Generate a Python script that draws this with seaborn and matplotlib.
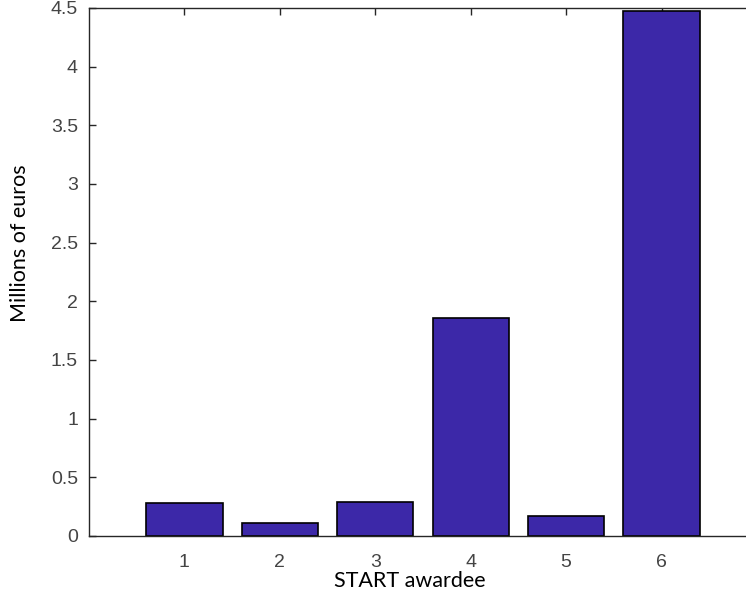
import pandas as pd
import matplotlib
matplotlib.use("Agg")
import matplotlib.pyplot as plt
import seaborn as sns

# values
awardees = [1, 2, 3, 4, 5, 6]
millions_euros = [0.284, 0.108, 0.292, 1.858, 0.170, 4.475]
ytick_labels = ["0", "0.5", "1", "1.5", "2", "2.5", "3", "3.5", "4", "4.5"]

df = pd.DataFrame({"awardee": awardees, "millions": millions_euros})

sns.set_style("white")
plt.rcParams["font.family"] = ["Liberation Sans", "DejaVu Sans"]

fig = plt.figure(figsize=(7.46, 5.94), dpi=100)
# axes run past the right edge, like the cropped original
ax = fig.add_axes([89 / 746, 58 / 594, 668 / 746, 528 / 594])

sns.barplot(data=df, x="awardee", y="millions", native_scale=True, width=0.8,
            color="#3C28A8", saturation=1, edgecolor="black", linewidth=1.2, ax=ax)

ax.set_xlim(0, 7)
ax.set_ylim(0, 4.5)
ax.set_xticks(awardees)
ax.set_yticks([float(t) for t in ytick_labels])
ax.set_yticklabels(ytick_labels)

ax.tick_params(direction="in", length=5, width=1, colors="#262626",
               labelcolor="#444444", labelsize=14, top=True, right=True,
               bottom=True, left=True)
for lab in ax.get_xticklabels() + ax.get_yticklabels():
    lab.set_family(["Liberation Sans", "DejaVu Sans"])
ax.tick_params(axis="x", pad=13)
ax.tick_params(axis="y", pad=8)
for side in ["left", "bottom", "top", "right"]:
    ax.spines[side].set_visible(True)
    ax.spines[side].set_color("#262626")
    ax.spines[side].set_linewidth(1)

ax.set_xlabel("START awardee", fontsize=15.5, family=["Lato", "DejaVu Sans"],
              color="black")
ax.set_ylabel("Millions of euros", fontsize=15.5, family=["Lato", "DejaVu Sans"],
              color="black")
ax.xaxis.set_label_coords(0.48, -0.085)
ax.yaxis.set_label_coords(-0.103, 0.555)
ax.xaxis.label.set_va("center")
ax.yaxis.label.set_va("center")

fig.savefig("out.png", dpi=100)
